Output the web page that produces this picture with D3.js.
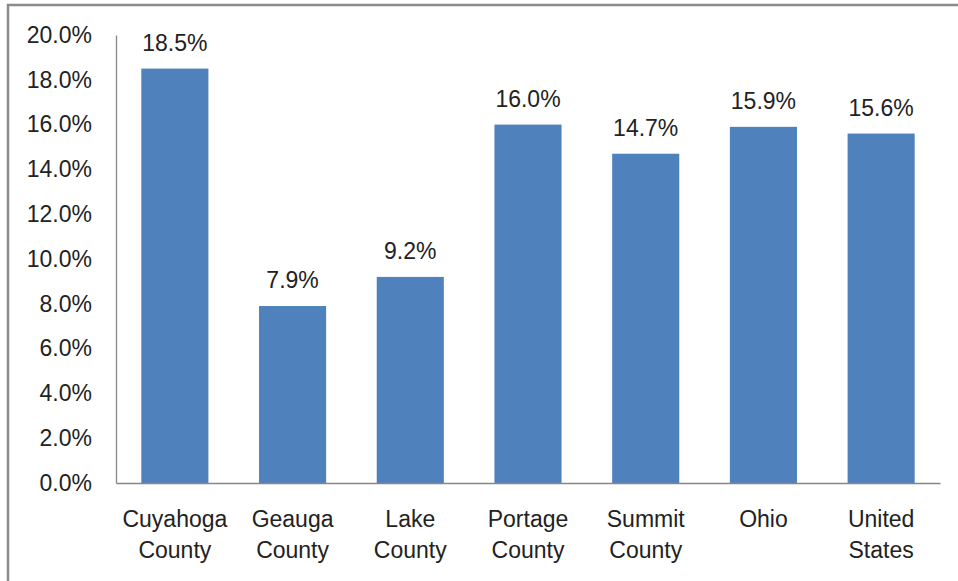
<!DOCTYPE html>
<html><head><meta charset="utf-8">
<script src="https://cdn.jsdelivr.net/npm/d3@7"></script>
<style>body{margin:0;background:#fff;} svg{display:block;}</style>
</head><body>
<svg id="c" width="958" height="581"></svg>
<script>
const categories = [["Cuyahoga","County"],["Geauga","County"],["Lake","County"],["Portage","County"],["Summit","County"],["Ohio"],["United","States"]];
const values = [18.5, 7.9, 9.2, 16.0, 14.7, 15.9, 15.6];
const yTicks = [0,2,4,6,8,10,12,14,16,18,20];

const svg = d3.select("#c");
const font = "'Liberation Sans', Arial, sans-serif";
const fs = 23;
const m = {left:116, right:940, top:35, bottom:483};

// frame
svg.append("rect").attr("x",8).attr("y",5).attr("width",1000).attr("height",700)
  .attr("fill","none").attr("stroke","#8c8c8c").attr("stroke-width",2.5);

const x = d3.scaleBand().domain(d3.range(categories.length)).range([m.left,m.right]).padding(0);
const y = d3.scaleLinear().domain([0,20]).range([m.bottom,m.top]);
const bw = x.bandwidth()*0.57;

svg.selectAll("rect.bar").data(values).join("rect").attr("class","bar")
  .attr("x",(d,i)=>x(i)+(x.bandwidth()-bw)/2).attr("width",bw)
  .attr("y",d=>y(d)).attr("height",d=>y(0)-y(d)).attr("fill","#4F81BD");

// y axis
const ya = svg.append("g").attr("transform",`translate(${m.left},0)`)
  .call(d3.axisLeft(y).tickValues(yTicks).tickSize(0).tickPadding(24).tickFormat(d=>d.toFixed(1)+"%"));
ya.select(".domain").attr("stroke","#868686").attr("stroke-width",1.3);
ya.selectAll("text").attr("font-family",font).attr("font-size",fs).attr("fill","#222");

// x axis
const xa = svg.append("g").attr("transform",`translate(0,${m.bottom})`)
  .call(d3.axisBottom(x).tickSize(0).tickFormat(""));
xa.select(".domain").attr("stroke","#868686").attr("stroke-width",1.3);
xa.selectAll(".tick").each(function(d){
  const t = d3.select(this).append("text").attr("font-family",font).attr("font-size",fs)
    .attr("fill","#222").attr("text-anchor","middle");
  categories[d].forEach((s,j)=>t.append("tspan").attr("x",0).attr("y",44+j*31).text(s));
});

// value labels
svg.selectAll("text.val").data(values).join("text").attr("class","val")
  .attr("x",(d,i)=>x(i)+x.bandwidth()/2).attr("y",d=>y(d)-18)
  .attr("text-anchor","middle").attr("font-family",font).attr("font-size",fs).attr("fill","#222")
  .text(d=>d.toFixed(1)+"%");
</script>
</body></html>
